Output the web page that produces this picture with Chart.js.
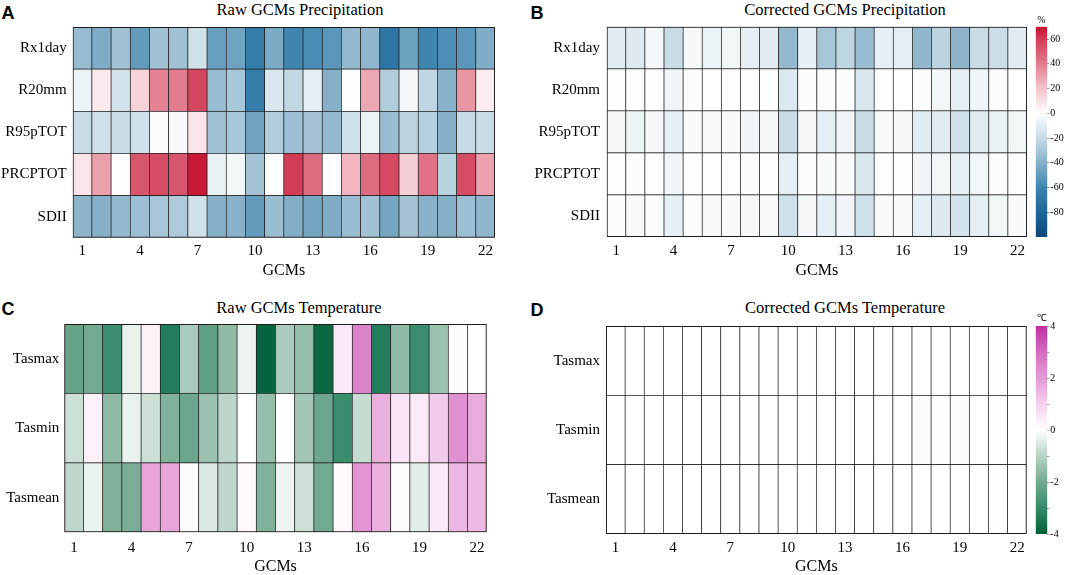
<!DOCTYPE html>
<html>
<head>
<meta charset="utf-8">
<script src="https://cdn.jsdelivr.net/npm/chart.js@4.4.1/dist/chart.umd.min.js"></script>
<style>
  html, body { margin: 0; padding: 0; background: #fff; }
  #wrap { position: relative; width: 1065px; height: 575px; overflow: hidden; }
  .box { position: absolute; }
  .letter { position: absolute; font: bold 18px "Liberation Sans", Arial, sans-serif; line-height: 18px; color: #000; }
  .title { position: absolute; width: 400px; text-align: center; font: 16.5px "Liberation Serif", "Times New Roman", serif; line-height: 17px; color: #000; white-space: nowrap; }
</style>
</head>
<body>
<div id="wrap">
  <div class="letter" style="left:1.5px;top:3.6px">A</div>
  <div class="letter" style="left:530.5px;top:3.6px">B</div>
  <div class="letter" style="left:1.5px;top:300px">C</div>
  <div class="letter" style="left:530.5px;top:301px">D</div>
  <div class="title" style="left:100px;top:1px">Raw GCMs Precipitation</div>
  <div class="title" style="left:645px;top:1px">Corrected GCMs Precipitation</div>
  <div class="title" style="left:99px;top:298.7px">Raw GCMs Temperature</div>
  <div class="title" style="left:645px;top:298.7px">Corrected GCMs Temperature</div>

  <div class="box" style="left:0;top:0;width:530px;height:285px"><canvas id="chartA"></canvas></div>
  <div class="box" style="left:530px;top:0;width:500px;height:285px"><canvas id="chartB"></canvas></div>
  <div class="box" style="left:1030px;top:0;width:35px;height:285px"><canvas id="barB"></canvas></div>
  <div class="box" style="left:0;top:285px;width:530px;height:290px"><canvas id="chartC"></canvas></div>
  <div class="box" style="left:530px;top:285px;width:500px;height:290px"><canvas id="chartD"></canvas></div>
  <div class="box" style="left:1030px;top:285px;width:35px;height:290px"><canvas id="barD"></canvas></div>
</div>
<script>
// categories
const gcms = ["1","2","3","4","5","6","7","8","9","10","11","12","13","14","15","16","17","18","19","20","21","22"];
const precipIndices = ["Rx1day", "R20mm", "R95pTOT", "PRCPTOT", "SDII"];
const tempIndices = ["Tasmax", "Tasmin", "Tasmean"];

// raw precipitation bias (%)
const rawRx1day   = [-35,-42,-32,-50,-32,-32,-17,-48,-46,-65,-43,-60,-57,-52,-36,-37,-70,-47,-60,-56,-52,-42];
const rawR20mm    = [-7,7,-16,15,38,40,57,-34,-30,-65,-14,-22,-10,-40,0,28,-27,-4,-23,-39,33,6];
const rawR95pTOT  = [-20,-18,-20,-18,-2,-3,9,-32,-30,-46,-27,-33,-31,-36,-18,-7,-34,-24,-26,-40,-21,-20];
const rawPRCPTOT  = [9,30,1,52,55,52,68,-8,-5,-31,-1,60,45,1,24,45,56,16,43,-25,55,30];
const rawSDII     = [-38,-40,-36,-33,-30,-28,-17,-40,-39,-50,-34,-41,-45,-42,-34,-32,-45,-31,-39,-40,-33,-37];

// corrected precipitation bias (%)
const corRx1day   = [-11,-12,-4,-20,-4,-7,-5,-9,-11,-36,-9,-30,-23,-34,-9,-10,-37,-24,-38,-20,-19,-11];
const corR20mm    = [-1,-1,-1,-6,-1.5,0,-1,-1,-1,-13,-2,-2,-2,-14,-1,0,-2,-5,-9,-6,-2,0];
const corR95pTOT  = [-4,-7,-4,-10,-3,-3,-3,-6,-4,-20,-4,-9,-6,-20,-3,-4,-11,-11,-17,-11,-8,-5];
const corPRCPTOT  = [-1,-2,-1,-6,-1,0,-1,-2,-1,-10,-2,-3,-3,-14,-1,-0.5,-6,-5,-9,-5,-2,-0.5];
const corSDII     = [-2,-3,-2,-9,-2,-3,-3,-4,-3,-18,-4,-9,-6,-18,-3,-3,-10,-12,-16,-10,-5,-3];

// raw temperature bias (degC)
const rawTasmax  = [-2.2,-2.0,-2.9,-0.3,0.3,-3.3,-1.2,-2.3,-1.6,-0.25,-3.9,-1.2,-1.5,-3.8,0.5,2.5,-3.3,-1.6,-2.9,-1.4,0.1,0];
const rawTasmin  = [-0.7,0.3,-1.6,-0.3,-0.7,-1.8,-2.1,-1.4,-0.95,0,-1.5,0,-1.3,-2.1,-2.9,-0.8,1.6,0.6,0.45,1.1,2.2,1.7];
const rawTasmean = [-0.9,-0.3,-1.8,-1.9,1.8,1.8,0.1,-0.5,-0.9,0.15,-1.8,-0.25,-0.7,-2.0,0.15,2.1,1.6,0.1,-0.4,0.5,1.5,1.4];

// corrected temperature bias (degC)
const corTasmax  = [0,0,0,0,0,0,0,0,0,0,0,0,0,0,0,0,0,0,0,0,0.05,0];
const corTasmin  = [0,0,0,0,0,0,0,0,0,0,0,0,0,0,0,0,-0.06,0,-0.06,0,0.04,0];
const corTasmean = [0,0,0,0,0,0,0,0,0,0,0,0,0,0,0,0,0,0,0,0,0.03,0];

// colour scales
const precipStops = [[-100,"#0b4678"],[-80,"#1c6699"],[-60,"#3e86b0"],[-40,"#86b0c8"],[-20,"#c8dce6"],[0,"#ffffff"],[20,"#f3c3cc"],[40,"#e27c8f"],[60,"#d23c57"],[70,"#c5102f"]];
const tempStops = [[-4,"#005f38"],[-3,"#348a69"],[-2,"#72a991"],[-1,"#b8d3c5"],[0,"#ffffff"],[1,"#f5d0ec"],[2,"#e49ad5"],[3,"#d56cc1"],[4,"#bf2f9f"]];

Chart.defaults.font.family = '"Liberation Serif", "Times New Roman", serif';
Chart.defaults.color = "#000";

function hex(c) {
  return [parseInt(c.slice(1,3),16), parseInt(c.slice(3,5),16), parseInt(c.slice(5,7),16)];
}
function colorAt(stops, v) {
  if (v <= stops[0][0]) return stops[0][1];
  for (let i = 1; i < stops.length; i++) {
    if (v <= stops[i][0]) {
      const t = (v - stops[i-1][0]) / (stops[i][0] - stops[i-1][0]);
      const a = hex(stops[i-1][1]), b = hex(stops[i][1]);
      const m = a.map((x, k) => Math.round(x + (b[k] - x) * t));
      return "rgb(" + m.join(",") + ")";
    }
  }
  return stops[stops.length-1][1];
}

function heatmap(id, rows, series, stops, L) {
  const n = rows.length;
  const datasets = [];
  for (let r = n - 1; r >= 0; r--) {
    datasets.push({
      label: rows[r],
      data: series[r].map(() => 1),
      backgroundColor: series[r].map(v => colorAt(stops, v)),
      borderColor: "#1e1e1e",
      borderSkipped: false,
      borderWidth: c => ({
        left: c.dataIndex === 0 ? 1.3 : 0.7,
        right: c.dataIndex === gcms.length - 1 ? 1.3 : 0.7,
        top: c.datasetIndex === n - 1 ? 1.3 : 0.7,
        bottom: c.datasetIndex === 0 ? 1.3 : 0.7
      }),
      barPercentage: 1,
      categoryPercentage: 1
    });
  }
  new Chart(document.getElementById(id), {
    type: "bar",
    data: { labels: gcms, datasets: datasets },
    options: {
      animation: false,
      responsive: true,
      maintainAspectRatio: false,
      layout: { padding: { left: 0, right: L.padRight, top: L.padTop, bottom: 0 } },
      plugins: { legend: { display: false }, tooltip: { enabled: false } },
      scales: {
        x: {
          stacked: true,
          grid: { display: false, drawTicks: false },
          border: { display: false },
          ticks: {
            autoSkip: false, maxRotation: 0, padding: L.tickPad, font: { size: 15 },
            callback: function (v, i) { return i % 3 === 0 ? this.getLabelForValue(v) : ""; }
          },
          title: { display: true, text: "GCMs", font: { size: 16, lineHeight: 1 }, padding: { top: 0, bottom: L.titlePad } },
          afterFit: s => { s.height = L.xHeight; }
        },
        y: {
          stacked: true, min: 0, max: n,
          grid: { display: false, drawTicks: false },
          border: { display: false },
          afterBuildTicks: s => { s.ticks = rows.map((r, i) => ({ value: i + 0.5 })); },
          ticks: { padding: L.labelPad, font: { size: 15 }, callback: v => rows[n - 1 - Math.floor(v)] },
          afterFit: s => { s.width = L.yWidth; }
        }
      }
    }
  });
}

function colorbar(id, vmin, vmax, stops, tickVals, labelled, unit, L) {
  new Chart(document.getElementById(id), {
    type: "bar",
    data: {
      labels: [""],
      datasets: [{
        data: [[vmin, vmax]],
        backgroundColor: c => {
          const chart = c.chart;
          if (!chart.chartArea) return "#fff";
          const y = chart.scales.y;
          const g = chart.ctx.createLinearGradient(0, y.getPixelForValue(vmin), 0, y.getPixelForValue(vmax));
          stops.forEach(s => g.addColorStop((s[0] - vmin) / (vmax - vmin), s[1]));
          return g;
        },
        borderWidth: 0,
        barPercentage: 1,
        categoryPercentage: 1
      }]
    },
    options: {
      animation: false,
      responsive: true,
      maintainAspectRatio: false,
      layout: { padding: { left: 5.7, right: 0, top: 0, bottom: L.padBottom } },
      plugins: {
        legend: { display: false },
        tooltip: { enabled: false },
        title: { display: true, text: unit, fullSize: false, font: { size: 10, lineHeight: 1.2, weight: "normal" }, padding: { top: L.tTop, bottom: L.tBottom } }
      },
      scales: {
        x: { display: false },
        y: {
          position: "right", min: vmin, max: vmax,
          grid: { display: true, drawOnChartArea: false, drawTicks: true, tickLength: 2, color: "#999" },
          border: { display: false },
          afterBuildTicks: s => { s.ticks = tickVals.map(v => ({ value: v })); },
          ticks: { padding: 1, font: { size: 10 }, callback: v => (labelled.includes(v) ? String(v) : "") },
          afterFit: s => { s.width = 17.7; }
        }
      }
    }
  });
}

heatmap("chartA", precipIndices, [rawRx1day, rawR20mm, rawR95pTOT, rawPRCPTOT, rawSDII], precipStops,
  { yWidth: 72.7, padRight: 35, padTop: 27, xHeight: 47.3, tickPad: 4, titlePad: 6, labelPad: 6 });
heatmap("chartB", precipIndices, [corRx1day, corR20mm, corR95pTOT, corPRCPTOT, corSDII], precipStops,
  { yWidth: 76.7, padRight: 2, padTop: 26.7, xHeight: 48, tickPad: 5, titlePad: 6, labelPad: 6.7 });
heatmap("chartC", tempIndices, [rawTasmax, rawTasmin, rawTasmean], tempStops,
  { yWidth: 64.3, padRight: 43.3, padTop: 39, xHeight: 42.7, tickPad: 6.5, titlePad: 0, labelPad: 5 });
heatmap("chartD", tempIndices, [corTasmax, corTasmin, corTasmean], tempStops,
  { yWidth: 76, padRight: 2, padTop: 41, xHeight: 41, tickPad: 5.3, titlePad: 0, labelPad: 6 });

colorbar("barB", -100, 70, precipStops, [-80,-60,-40,-20,0,20,40,60], [-80,-60,-40,-20,0,20,40,60], "%",
  { padBottom: 48, tTop: 14, tBottom: 0.7 });
colorbar("barD", -4, 4, tempStops, [-4,-3,-2,-1,0,1,2,3,4], [-4,-2,0,2,4], "℃",
  { padBottom: 41, tTop: 27, tBottom: 2 });
</script>
</body>
</html>
